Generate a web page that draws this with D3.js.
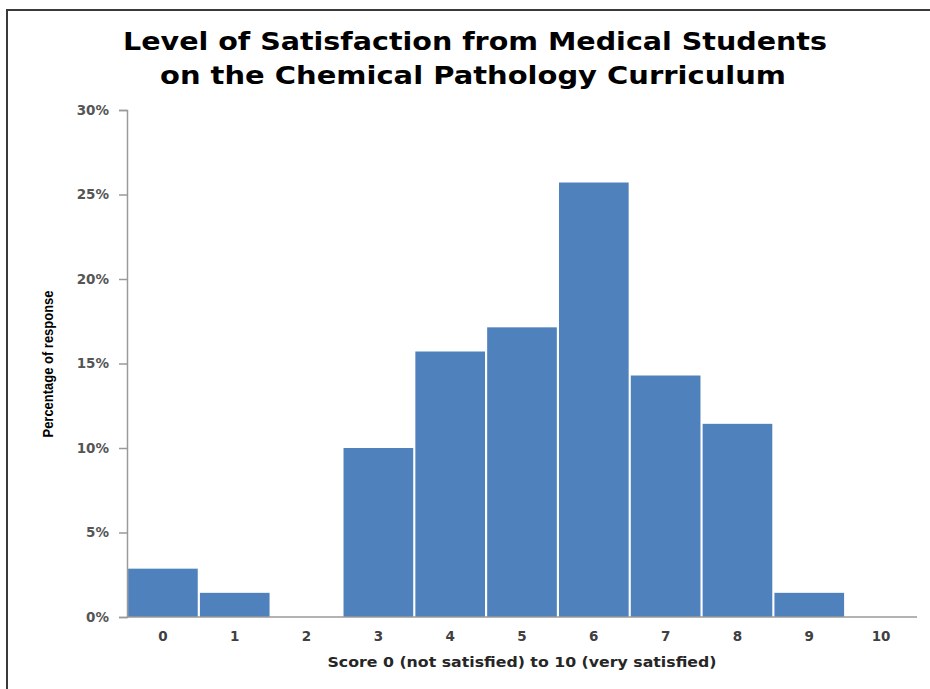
<!DOCTYPE html>
<html>
<head>
<meta charset="utf-8">
<script src="https://cdn.jsdelivr.net/npm/d3@7"></script>
<style>
  html, body { margin: 0; padding: 0; background: #fff; }
  svg { display: block; }
</style>
</head>
<body>
<svg id="chart" width="930" height="689"></svg>
<script>
// Satisfaction scores (0–10) and share of responses in percent
const scores = ["0", "1", "2", "3", "4", "5", "6", "7", "8", "9", "10"];
const percentages = [2.86, 1.43, 0, 10.0, 15.71, 17.14, 25.71, 14.29, 11.43, 1.43, 0];
const yTicks = [0, 5, 10, 15, 20, 25, 30];

const titleLines = [
  "Level of Satisfaction from Medical Students",
  "on the Chemical Pathology Curriculum"
];
const xTitle = "Score 0 (not satisfied) to 10 (very satisfied)";
const yTitle = "Percentage of response";

const svg = d3.select("#chart");
const W = 930, H = 689;
const margin = { left: 127, right: 13, top: 110, bottom: 72 };
const plotBottom = H - margin.bottom; // 617
const FONT = "'DejaVu Sans', sans-serif";

// Outer frame (top and left edges visible)
svg.append("path")
  .attr("d", `M7,${H} L7,10 L${W},10`)
  .attr("fill", "none")
  .attr("stroke", "#3a3a3a")
  .attr("stroke-width", 2);

const x = d3.scaleBand()
  .domain(scores)
  .range([margin.left, W - margin.right])
  .paddingInner(0.03)
  .paddingOuter(0.015);

const y = d3.scaleLinear()
  .domain([0, 30])
  .range([plotBottom, margin.top]);

// Bars
svg.append("g")
  .selectAll("rect")
  .data(percentages)
  .join("rect")
  .attr("x", (d, i) => x(scores[i]))
  .attr("width", x.bandwidth())
  .attr("y", d => y(d))
  .attr("height", d => y(0) - y(d))
  .attr("fill", "#4F81BD");

// Y axis
const yAxis = svg.append("g")
  .attr("transform", `translate(${margin.left},0)`)
  .call(d3.axisLeft(y).tickValues(yTicks).tickFormat(d => d + "%").tickSize(8).tickSizeOuter(8).tickPadding(10));
yAxis.select(".domain").attr("stroke", "#9a9a9a").attr("stroke-width", 1.5);
yAxis.selectAll(".tick line").attr("stroke", "#9a9a9a").attr("stroke-width", 1.5);
yAxis.selectAll(".tick text")
  .attr("fill", "#555")
  .style("font-family", FONT)
  .style("font-size", "13.5px")
  .style("font-weight", "700");

// X axis
const xAxis = svg.append("g")
  .attr("transform", `translate(0,${plotBottom})`)
  .call(d3.axisBottom(x).tickSize(0).tickSizeOuter(0).tickPadding(14));
xAxis.select(".domain")
  .attr("d", `M${margin.left},0H${W - margin.right}`)
  .attr("stroke", "#9a9a9a").attr("stroke-width", 1.5);
xAxis.selectAll(".tick text")
  .attr("fill", "#404040")
  .style("font-family", FONT)
  .style("font-size", "13.5px")
  .style("font-weight", "700");

// Title
const titleWidths = [704, 626];
svg.append("g")
  .selectAll("text")
  .data(titleLines)
  .join("text")
  .attr("x", (d, i) => [475, 473][i])
  .attr("y", (d, i) => 50 + i * 34)
  .attr("text-anchor", "middle")
  .style("font-family", FONT)
  .style("font-size", "25px")
  .style("font-weight", "700")
  .attr("fill", "#000")
  .attr("textLength", (d, i) => titleWidths[i])
  .attr("lengthAdjust", "spacingAndGlyphs")
  .text(d => d);

// X axis title
svg.append("text")
  .attr("x", 522)
  .attr("y", 667)
  .attr("text-anchor", "middle")
  .style("font-family", FONT)
  .style("font-size", "13.5px")
  .style("font-weight", "700")
  .attr("fill", "#262626")
  .attr("textLength", 389)
  .attr("lengthAdjust", "spacingAndGlyphs")
  .text(xTitle);

// Y axis title (rotated, condensed)
svg.append("text")
  .attr("transform", "translate(53,364) rotate(-90)")
  .attr("text-anchor", "middle")
  .style("font-family", "'Liberation Sans Narrow', 'Arial Narrow', sans-serif")
  .style("font-size", "15px")
  .style("font-weight", "700")
  .attr("fill", "#000")
  .attr("textLength", 147)
  .attr("lengthAdjust", "spacingAndGlyphs")
  .text(yTitle);
</script>
</body>
</html>
